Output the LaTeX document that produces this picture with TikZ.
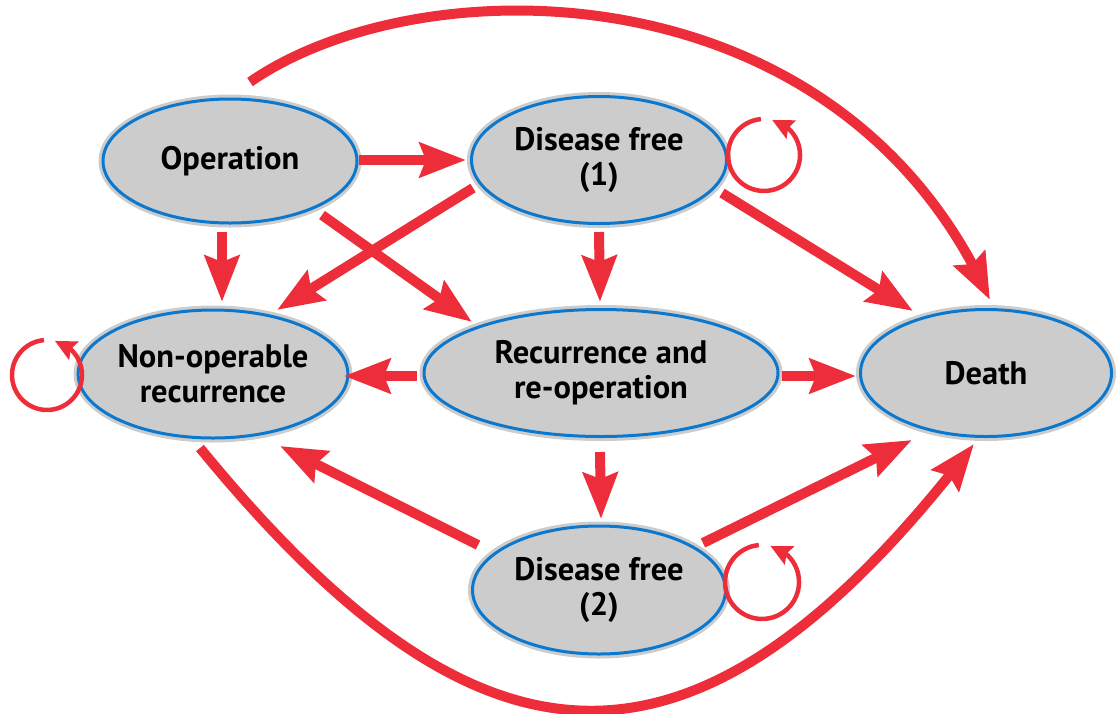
\documentclass[tikz,border=0pt]{standalone}
\usepackage{fontspec}
\setmainfont{PT Sans}
\usetikzlibrary{shapes.geometric,arrows.meta,bending}
\definecolor{rd}{HTML}{EE2D3A}
\definecolor{bl}{HTML}{0B78CE}
\definecolor{gy}{HTML}{CCCCCC}
\begin{document}
\begin{tikzpicture}[x=1pt,y=-1pt,
  state/.style={ellipse, fill=gy, draw=bl, line width=3pt,
    preaction={draw=gy, line width=9pt}, inner sep=0pt, align=center,
    font=\fontsize{32.5}{35}\selectfont\bfseries},
  arr/.style={draw=rd, line width=10pt, -{Stealth[length=46pt,width=34pt,inset=6pt]}},
  selfloop/.style={draw=rd, line width=4.5pt, -{Stealth[length=21pt,width=20pt,inset=3pt,flex]}}]
\useasboundingbox (0,0) rectangle (1117,713);

\node[state, minimum width=254pt, minimum height=124pt] (op) at (230,161) {Operation};
\node[state, minimum width=255pt, minimum height=127pt] (df1) at (599,160) {Disease free\\(1)};
\node[state, minimum width=254pt, minimum height=128pt] (nop) at (213,374) {Non-operable\\recurrence};
\node[state, minimum width=354pt, minimum height=127pt] (rec) at (601,373) {Recurrence and\\re-operation};
\node[state, minimum width=251pt, minimum height=127pt] (dth) at (986,373) {Death};
\node[state, minimum width=253pt, minimum height=128pt] (df2) at (599,590) {Disease free\\(2)};

\draw[arr] ([shift={(129,-1)}]op.center) -- ([shift={(-133,0)}]df1.center);
\draw[arr] ([shift={(-8,71)}]op.center) -- ([shift={(9,-72)}]nop.center);
\draw[arr] ([shift={(92,54)}]op.center) -- ([shift={(-129,-51)}]rec.center);
\draw[arr] ([shift={(-126,28)}]df1.center) -- ([shift={(64,-64)}]nop.center);
\draw[arr] ([shift={(0,72)}]df1.center) -- ([shift={(-1,-71)}]rec.center);
\draw[arr] ([shift={(123,33)}]df1.center) -- ([shift={(-73,-62)}]dth.center);
\draw[arr] ([shift={(20,-79)}]op.center) .. controls (420,-36) and (840,-36) .. ([shift={(4,-73)}]dth.center);
\draw[arr] ([shift={(-184,3)}]rec.center) -- ([shift={(131,2)}]nop.center);
\draw[arr] ([shift={(181,3)}]rec.center) -- ([shift={(-130,3)}]dth.center);
\draw[arr] ([shift={(-1,79)}]rec.center) -- ([shift={(2,-71)}]df2.center);
\draw[arr] ([shift={(-121,-45)}]df2.center) -- ([shift={(67,72)}]nop.center);
\draw[arr] ([shift={(104,-47)}]df2.center) -- ([shift={(-74,67)}]dth.center);
\draw[arr] ([shift={(-13,74)}]nop.center) .. controls (480,790) and (695,808) .. ([shift={(-12,71)}]dth.center);

\draw[selfloop] ([shift={(161.9,-40.9)}]df1.center) arc[start angle=265, end angle=-77, radius=36];
\draw[selfloop] ([shift={(-169.05,-33.9)}]nop.center) arc[start angle=265, end angle=-77, radius=35];
\draw[selfloop] ([shift={(159.8,-44.9)}]df2.center) arc[start angle=265, end angle=-77, radius=37];
\end{tikzpicture}
\end{document}
